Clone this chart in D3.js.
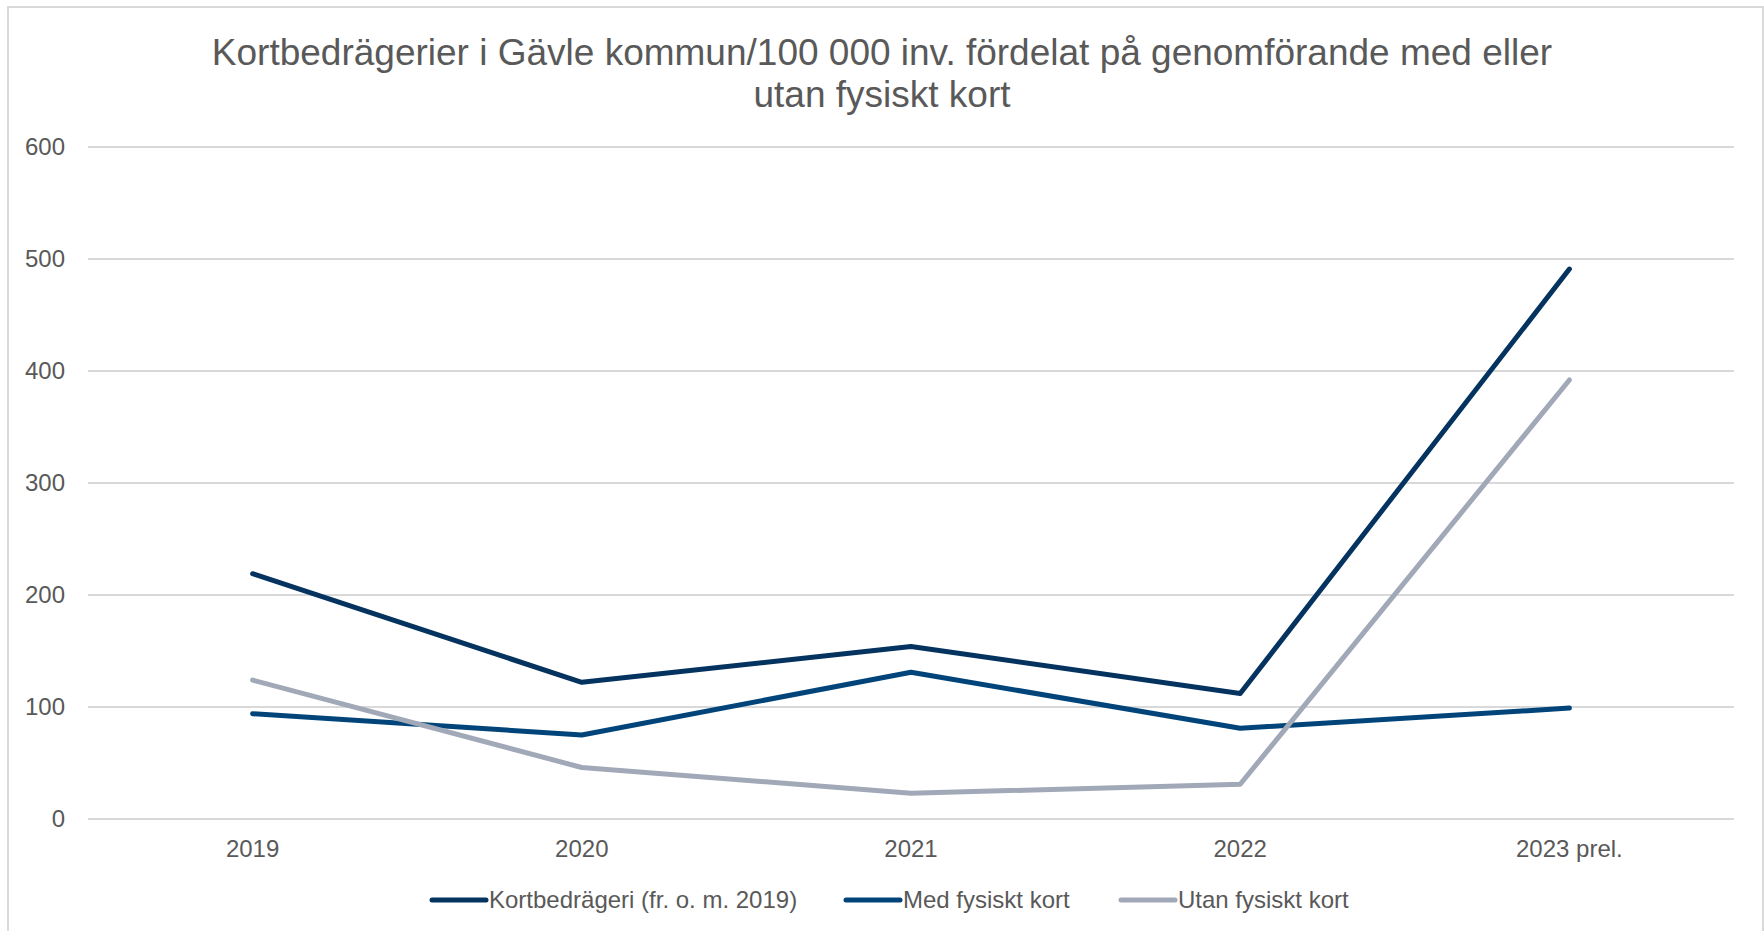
<!DOCTYPE html>
<html>
<head>
<meta charset="utf-8">
<script src="https://cdn.jsdelivr.net/npm/d3@7"></script>
<style>
  body { margin: 0; background: #fff; }
  svg { display: block; font-family: "Liberation Sans", Arial, sans-serif; }
</style>
</head>
<body>
<div id="chart"></div>
<script>
// Data
const years = ["2019", "2020", "2021", "2022", "2023 prel."];
const kortbedrageri = [219, 122, 154, 112, 491];
const medFysisktKort = [94, 75, 131, 81, 99];
const utanFysisktKort = [124, 46, 23, 31, 392];
const yTicks = [0, 100, 200, 300, 400, 500, 600];
const seriesNames = ["Kortbedrägeri (fr. o. m. 2019)", "Med fysiskt kort", "Utan fysiskt kort"];
const seriesColors = ["#04335f", "#014479", "#a1a8b7"];

const series = [kortbedrageri, medFysisktKort, utanFysisktKort].map((vals, i) => ({
    name: seriesNames[i],
    color: seriesColors[i],
    values: vals.map((v, j) => ({ year: years[j], value: v }))
}));

const width = 1764, height = 931;
const margin = { top: 147, right: 30, bottom: 111, left: 88 };

const svg = d3.select("#chart").append("svg")
    .attr("width", width)
    .attr("height", height);

// Chart border
svg.append("rect")
    .attr("x", 8).attr("y", 7)
    .attr("width", width - 9).attr("height", height)
    .attr("fill", "none")
    .attr("stroke", "#d9d9d9")
    .attr("stroke-width", 2);

// Scales
const x = d3.scaleBand()
    .domain(years)
    .range([margin.left, width - margin.right]);

const y = d3.scaleLinear()
    .domain([0, 600])
    .range([height - margin.bottom - 1, margin.top]);

// Gridlines
svg.append("g")
    .selectAll("line")
    .data(yTicks)
    .enter()
    .append("line")
    .attr("x1", margin.left)
    .attr("x2", width - margin.right)
    .attr("y1", d => y(d))
    .attr("y2", d => y(d))
    .attr("stroke", "#d9d9d9")
    .attr("stroke-width", 2);

// Y-axis labels
const yAxis = svg.append("g")
    .attr("transform", `translate(${margin.left},0)`)
    .call(d3.axisLeft(y).tickValues(yTicks).tickSize(0).tickPadding(23));
yAxis.select(".domain").remove();
yAxis.selectAll("text")
    .attr("fill", "#595959")
    .style("font-size", "24px")
    .style("font-family", "Liberation Sans, Arial, sans-serif");

// X-axis labels
const xAxis = svg.append("g")
    .attr("transform", `translate(0,${y(0)})`)
    .call(d3.axisBottom(x).tickSize(0).tickPadding(21));
xAxis.select(".domain").remove();
xAxis.selectAll("text")
    .attr("fill", "#595959")
    .style("font-size", "24px")
    .style("font-family", "Liberation Sans, Arial, sans-serif");

// Lines
const line = d3.line()
    .x(d => x(d.year) + x.bandwidth() / 2)
    .y(d => y(d.value));

svg.selectAll("path.series")
    .data(series)
    .enter()
    .append("path")
    .attr("class", "series")
    .attr("d", d => line(d.values))
    .attr("fill", "none")
    .attr("stroke", d => d.color)
    .attr("stroke-width", 5)
    .attr("stroke-linecap", "round")
    .attr("stroke-linejoin", "round");

// Title
const title = svg.append("text")
    .attr("x", width / 2)
    .attr("y", 65)
    .attr("text-anchor", "middle")
    .attr("fill", "#595959")
    .style("font-size", "37px");
title.append("tspan")
    .attr("x", width / 2)
    .text("Kortbedrägerier i Gävle kommun/100 000 inv. fördelat på genomförande med eller");
title.append("tspan")
    .attr("x", width / 2)
    .attr("dy", 42)
    .text("utan fysiskt kort");

// Legend
const legendX = [432, 846, 1121];
const legend = svg.selectAll(".legend")
    .data(series)
    .enter()
    .append("g")
    .attr("class", "legend")
    .attr("transform", (d, i) => `translate(${legendX[i]},900)`);

legend.append("line")
    .attr("x1", 0)
    .attr("x2", 54)
    .attr("stroke", d => d.color)
    .attr("stroke-width", 5)
    .attr("stroke-linecap", "round");

legend.append("text")
    .attr("x", 57)
    .attr("y", 8)
    .attr("fill", "#595959")
    .style("font-size", "24px")
    .text(d => d.name);
</script>
</body>
</html>
